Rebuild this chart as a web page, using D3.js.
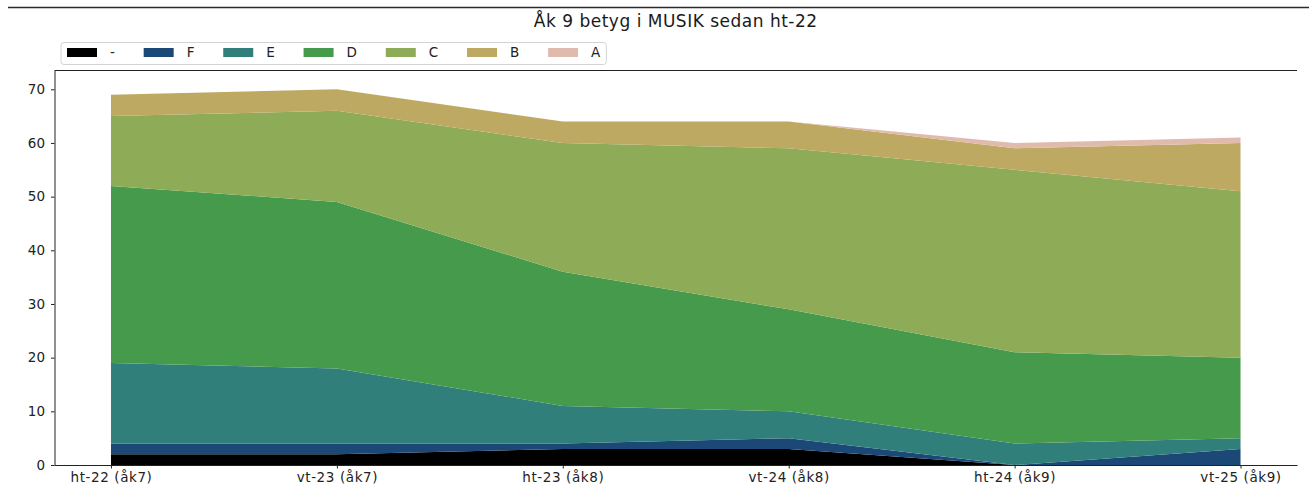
<!DOCTYPE html>
<html>
<head>
<meta charset="utf-8">
<script src="https://cdn.jsdelivr.net/npm/d3@7"></script>
<style>
  html, body { margin: 0; padding: 0; background: #fff; }
  svg { display: block; font-family: "DejaVu Sans", sans-serif; }
</style>
</head>
<body>
<svg id="chart" width="1309" height="488"></svg>
<script>
// ---- data ----
const categories = ["ht-22 (åk7)", "vt-23 (åk7)", "ht-23 (åk8)", "vt-24 (åk8)", "ht-24 (åk9)", "vt-25 (åk9)"];
const grades = ["-", "F", "E", "D", "C", "B", "A"];
const gradeColors = ["#000000", "#1c4878", "#317f7a", "#469a4b", "#8eab58", "#bea962", "#e0bbad"];
const valDash = [2, 2, 3, 3, 0, 0];
const valF    = [2, 2, 1, 2, 0, 3];
const valE    = [15, 14, 7, 5, 4, 2];
const valD    = [33, 31, 25, 19, 17, 15];
const valC    = [13, 17, 24, 30, 34, 31];
const valB    = [4, 4, 4, 5, 4, 9];
const valA    = [0, 0, 0, 0, 1, 1];
const yTicks  = [0, 10, 20, 30, 40, 50, 60, 70];
const chartTitle = "Åk 9 betyg i MUSIK sedan ht-22";

const series = [valDash, valF, valE, valD, valC, valB, valA];
const rows = categories.map((c, i) => {
  const r = { idx: i };
  grades.forEach((g, k) => r[g] = series[k][i]);
  return r;
});

(function () {
  // ---- layout ----
  const svg = d3.select("#chart");
  const mLeft = 54.5, mRight = 1297, mTop = 70.5, mBottom = 465;
  const x = d3.scaleLinear().domain([-0.25, categories.length - 0.75]).range([mLeft, mRight]);
  const y = d3.scaleLinear().domain([0, 73.5]).range([mBottom, mTop]);

  // figure top line
  svg.append("line").attr("x1", 8).attr("x2", 1309).attr("y1", 7.5).attr("y2", 7.5)
    .attr("stroke", "#2b2b2b").attr("stroke-width", 1.3);

  // title
  svg.append("text").attr("x", (mLeft + mRight) / 2).attr("y", 27)
    .attr("text-anchor", "middle").attr("font-size", 17).attr("letter-spacing", 0.5)
    .attr("fill", "#1a1a1a")
    .text(chartTitle);

  // stacked areas
  const stacked = d3.stack().keys(grades)(rows);
  const area = d3.area()
    .x(d => x(d.data.idx))
    .y0(d => y(d[0]))
    .y1(d => y(d[1]));
  svg.append("g").selectAll("path").data(stacked).join("path")
    .attr("d", area)
    .attr("fill", (d, i) => gradeColors[i])
    .attr("stroke", "none");

  // axes
  const gx = svg.append("g").attr("transform", `translate(0,${mBottom})`)
    .call(d3.axisBottom(x).tickValues(d3.range(categories.length)).tickFormat(i => categories[i]).tickSize(3.5).tickSizeOuter(0));
  const gy = svg.append("g").attr("transform", `translate(${mLeft},0)`)
    .call(d3.axisLeft(y).tickValues(yTicks).tickSize(3.5).tickSizeOuter(0).tickPadding(6));
  [gx, gy].forEach(g => {
    g.select(".domain").attr("stroke", "#222").attr("stroke-width", 1);
    g.selectAll(".tick line").attr("stroke", "#222");
    g.selectAll(".tick text").attr("fill", "#222").attr("font-size", 13.5)
      .attr("font-family", "DejaVu Sans, sans-serif");
  });
  gx.selectAll(".tick text").attr("dy", null).attr("y", 17).attr("letter-spacing", 0.6);
  // top spine
  svg.append("line").attr("x1", mLeft).attr("x2", mRight).attr("y1", mTop).attr("y2", mTop)
    .attr("stroke", "#222").attr("stroke-width", 1);

  // legend
  const leg = svg.append("g");
  const legBox = leg.append("rect").attr("x", 61).attr("y", 42.5).attr("height", 22)
    .attr("rx", 3).attr("fill", "#fff").attr("stroke", "#d4d4d4").attr("stroke-width", 1);
  let lx = 67;
  grades.forEach((g, i) => {
    leg.append("rect").attr("x", lx).attr("y", 48).attr("width", 30).attr("height", 9)
      .attr("fill", gradeColors[i]);
    const t = leg.append("text").attr("x", lx + 30 + 13).attr("y", 57)
      .attr("font-size", 13.5).attr("fill", "#222").text(g);
    const w = t.node().getComputedTextLength();
    lx = lx + 30 + 13 + w + (i < grades.length - 1 ? 28.8 : 0);
  });
  legBox.attr("width", lx + 6 - 61);
})();
</script>
</body>
</html>
